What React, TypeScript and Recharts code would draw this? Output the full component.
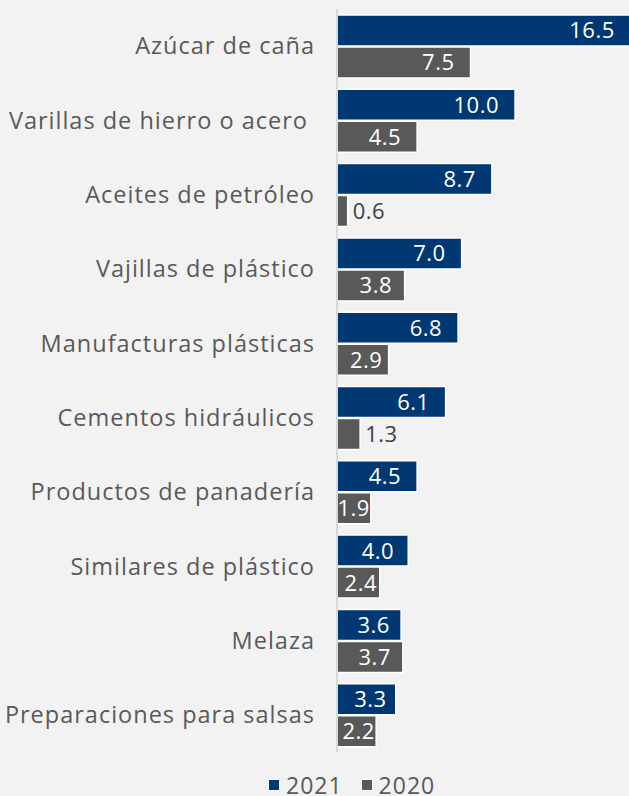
import React from 'react';
import { BarChart, Bar, XAxis, YAxis, LabelList } from 'recharts';

const categories = [
  'Azúcar de caña',
  'Varillas de hierro o acero\u00a0',
  'Aceites de petróleo',
  'Vajillas de plástico',
  'Manufacturas plásticas',
  'Cementos hidráulicos',
  'Productos de panadería',
  'Similares de plástico',
  'Melaza',
  'Preparaciones para salsas',
];
const values2021 = [16.5, 10.0, 8.7, 7.0, 6.8, 6.1, 4.5, 4.0, 3.6, 3.3];
const values2020 = [7.5, 4.5, 0.6, 3.8, 2.9, 1.3, 1.9, 2.4, 3.7, 2.2];

const BLUE = '#003873';
const GRAY = '#595959';
const TEXT = '#595959';
const FONT = '"Open Sans", sans-serif';

const data = categories.map((name, i) => ({
  name,
  y2021: values2021[i],
  y2020: values2020[i],
}));

// inside-end label in white, tiny bars get the number outside
const renderValue = (props: any) => {
  const { x, y, width, height, value } = props;
  const cy = y + height / 2;
  const txt = Number(value).toFixed(1);
  if (value < 1.5) {
    return (
      <text x={x + width + 5} y={cy} dy="0.36em" fill="#404040" fontSize={22} fontFamily={FONT} letterSpacing={0.5} textAnchor="start">
        {txt}
      </text>
    );
  }
  const pad = Math.max(1, Math.min(16, (width - 36) / 2.5));
  return (
    <text x={x + width - pad} y={cy} dy="0.36em" fill="#fff" fontSize={22} fontFamily={FONT} letterSpacing={0.5} textAnchor="end">
      {txt}
    </text>
  );
};

const sq = (color: string) => (
  <span style={{ width: 10, height: 10, background: color, border: '1px solid #fff', display: 'inline-block', marginRight: 6 }} />
);

export default function App() {
  return (
    <div style={{ position: 'absolute', left: 0, top: 0, width: 629, height: 796, background: '#f2f2f2', overflow: 'hidden' }}>
      <BarChart
        width={629}
        height={754}
        data={data}
        layout="vertical"
        margin={{ top: 9, right: 0, bottom: 2, left: 0 }}
        barSize={31}
        barGap={1}
      >
        <XAxis type="number" hide domain={[0, 16.4]} allowDataOverflow />
        <YAxis
          type="category"
          dataKey="name"
          width={337}
          tickLine={false}
          tickSize={0}
          tickMargin={22}
          axisLine={{ stroke: '#d9d9d9', strokeWidth: 2 }}
          tick={{ fill: TEXT, fontSize: 23.5, fontFamily: FONT, letterSpacing: 1 }}
          interval={0}
        />
        <Bar dataKey="y2021" fill={BLUE} stroke="#fff" strokeWidth={1.5} isAnimationActive={false}>
          <LabelList dataKey="y2021" content={renderValue} />
        </Bar>
        <Bar dataKey="y2020" fill={GRAY} stroke="#fff" strokeWidth={1.5} isAnimationActive={false}>
          <LabelList dataKey="y2020" content={renderValue} />
        </Bar>
      </BarChart>
      <div
        style={{
          position: 'absolute', top: 775, left: 268, height: 20, lineHeight: '20px',
          display: 'flex', alignItems: 'center', fontFamily: FONT, fontSize: 23, letterSpacing: 1, color: TEXT,
        }}
      >
        {sq(BLUE)}
        <span style={{ marginRight: 18 }}>2021</span>
        {sq(GRAY)}
        <span>2020</span>
      </div>
    </div>
  );
}
